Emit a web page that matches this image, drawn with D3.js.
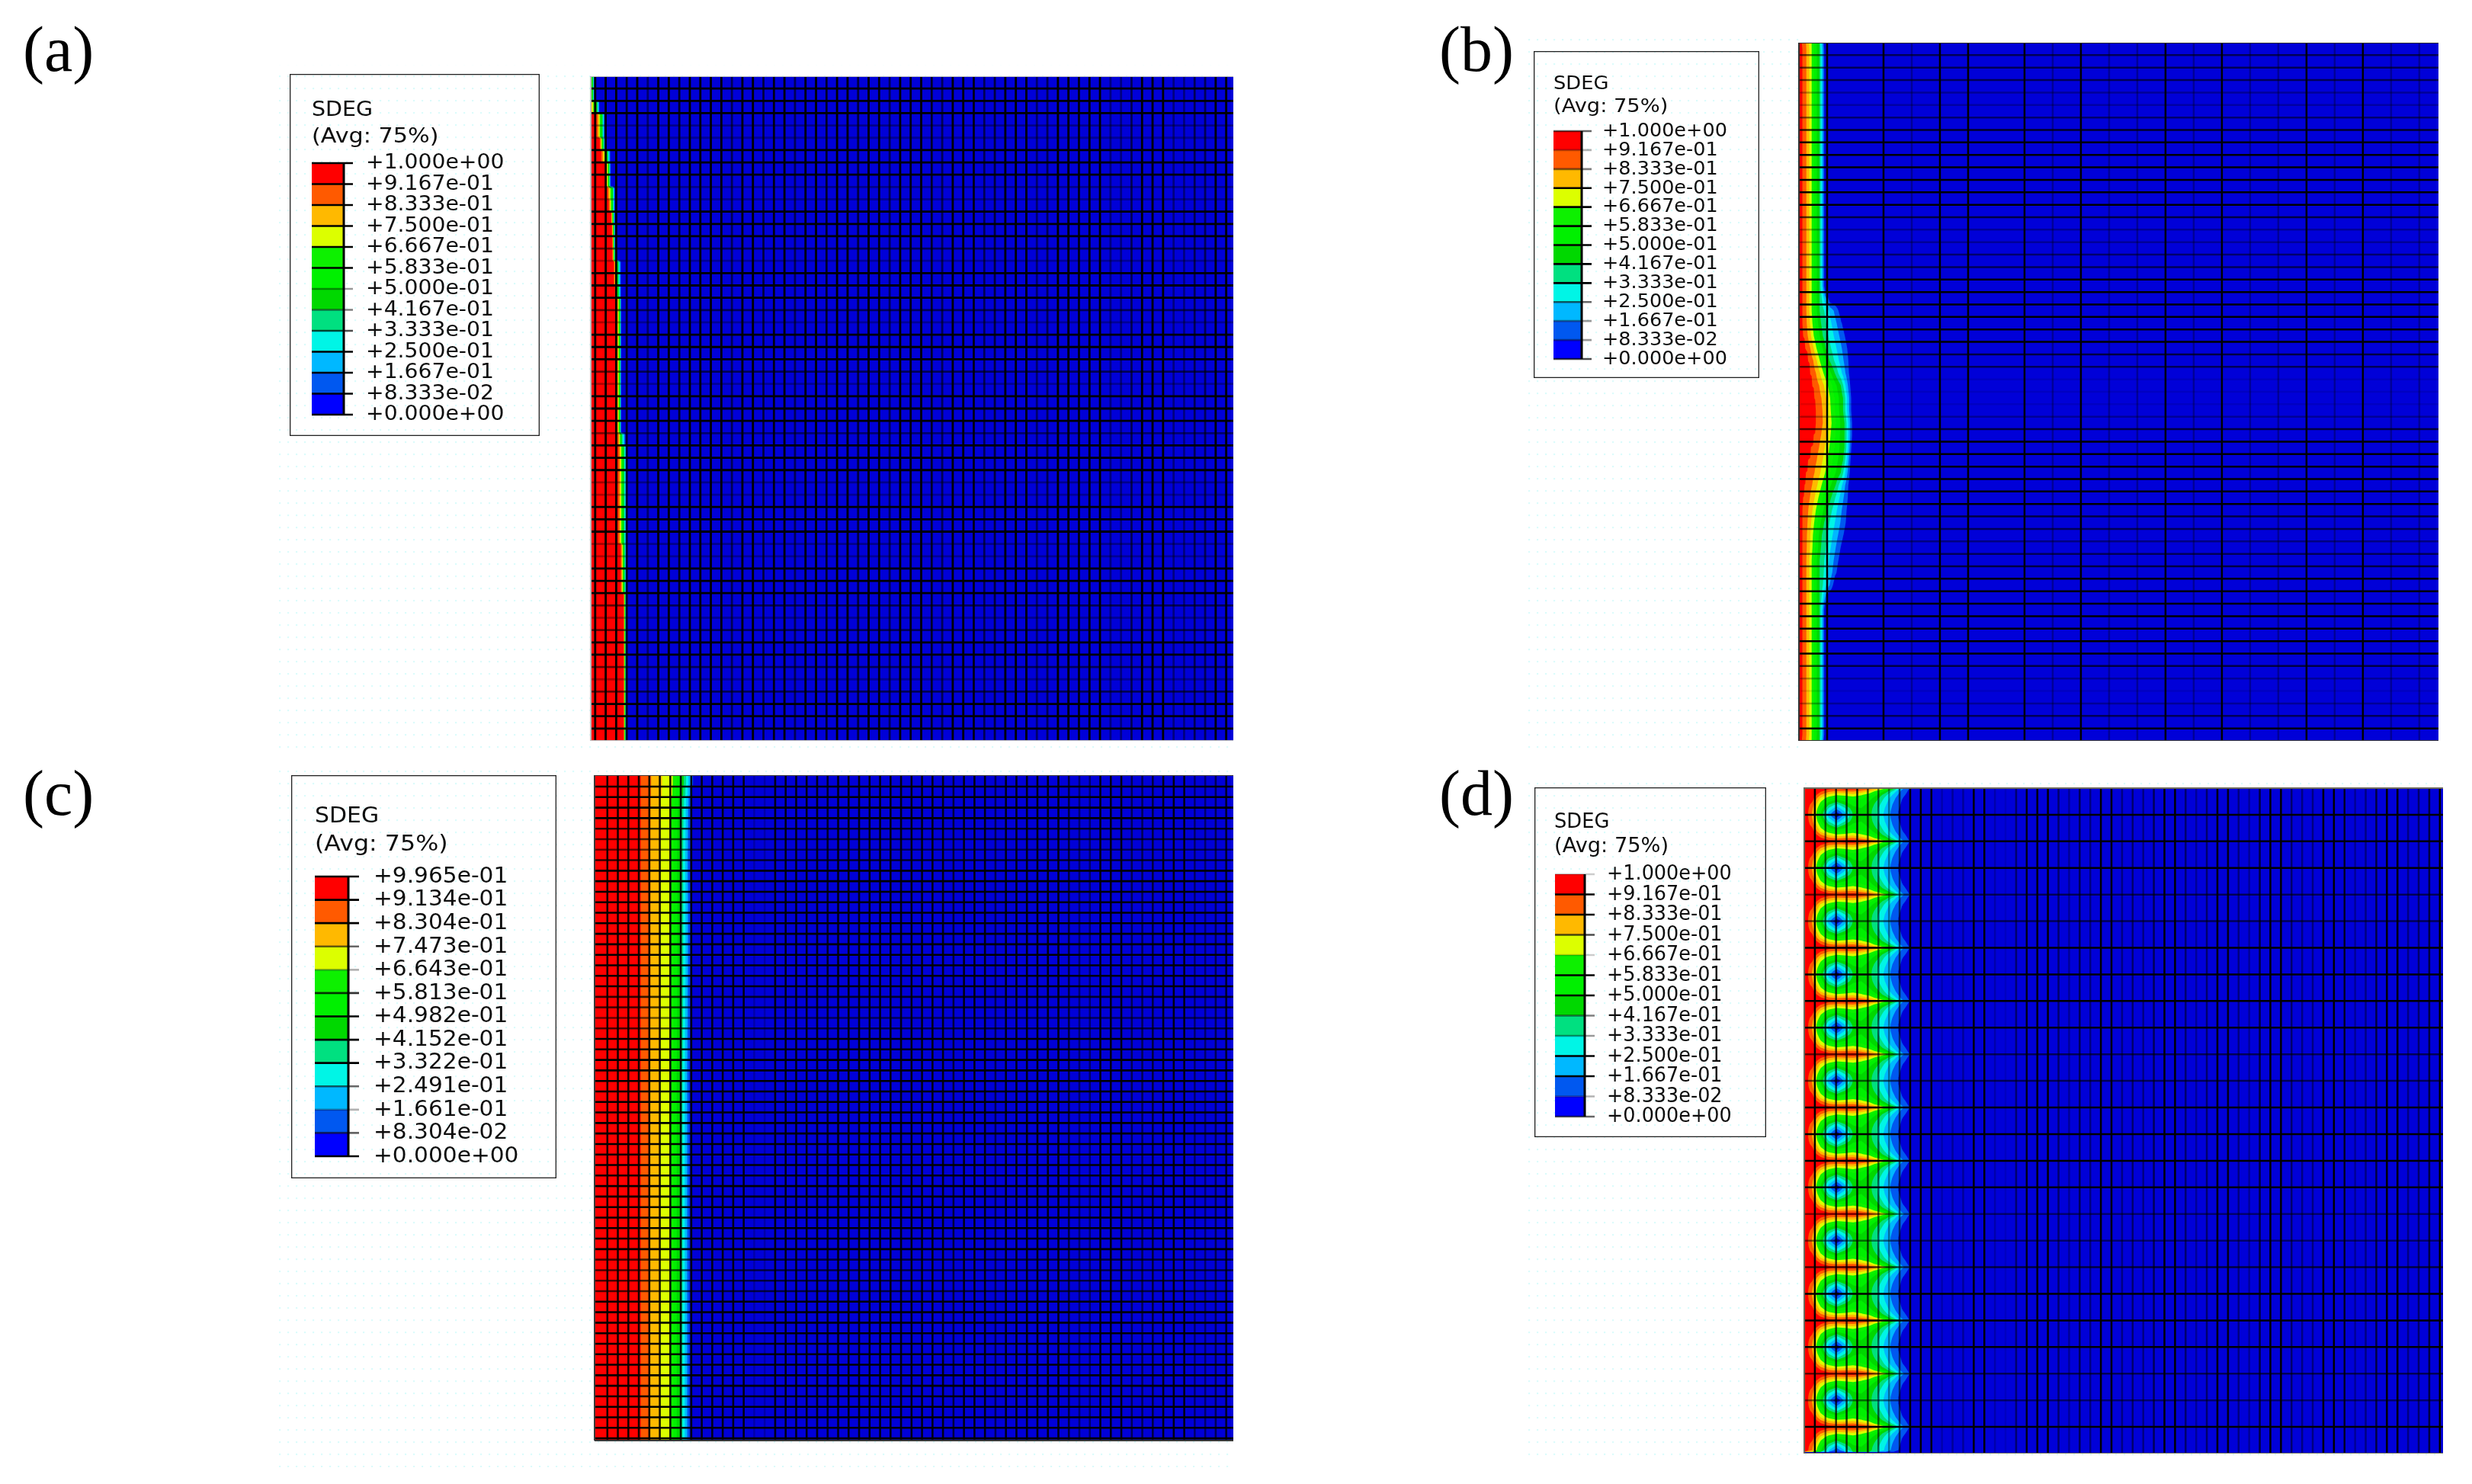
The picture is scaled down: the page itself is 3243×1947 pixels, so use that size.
<!DOCTYPE html>
<html>
<head>
<meta charset="utf-8">
<title>SDEG contours</title>
<script src="https://cdn.jsdelivr.net/npm/d3@7"></script>
<style>
body { margin: 0; background: #fff; }
svg { display: block; }
text { font-family: "DejaVu Sans", sans-serif; fill: #111; }
.tag { font-family: "Liberation Serif", serif; font-size: 84px; fill: #000; }
</style>
</head>
<body>
<div id="chart"></div>
<script>
// legend values
var labelsStd = ['+1.000e+00','+9.167e-01','+8.333e-01','+7.500e-01','+6.667e-01','+5.833e-01','+5.000e-01','+4.167e-01','+3.333e-01','+2.500e-01','+1.667e-01','+8.333e-02','+0.000e+00'];
var labelsC = ['+9.965e-01','+9.134e-01','+8.304e-01','+7.473e-01','+6.643e-01','+5.813e-01','+4.982e-01','+4.152e-01','+3.322e-01','+2.491e-01','+1.661e-01','+8.304e-02','+0.000e+00'];
var bandColors = ['#ff0000','#ff5a00','#ffb900','#dcff00','#10f000','#00f000','#00d800','#00e080','#00f5e6','#00b8ff','#0058f0','#0000ff'];
var levels = [0.0833,0.1667,0.25,0.3333,0.4167,0.5,0.5833,0.6667,0.75,0.8333,0.9167];
var meshBlue = '#0000d8';

// how dark each legend tick came out in the picture
var ticksA = [1,1,1,1,1,1,.4,.5,.7,1,1,1,1];
var ticksB = [.6,.3,.5,1,1,1,1,1,1,.6,.4,.4,.7];
var ticksC = [1,1,1,.6,.3,.8,1,1,1,.6,.3,.6,1];
var ticksD = [.2,1,1,.7,.2,1,1,.5,.4,1,1,.3,.6];

// band depth per mesh row, in mesh columns from the left edge
var redA = [-.3,-.3,-.2,.55,.55,.85,.97,1.45,1.45,1.58,1.7,1.93,2,2.05,2.05,2.17,2.17,2.3,2.5,2.5,2.5,2.5,2.5,2.5,2.5,2.5,2.5,2.5,2.5,2.55,2.6,2.6,2.6,2.6,2.6,2.6,2.6,2.6,2.85,2.85,2.85,2.85,3.12,3.12,3.12,3.12,3.12,3.12,3.12,3.12,3.12,3.12,3.12,3.12];
var midA = [.2,.2,.6,1.1,1.1,1.2,1.6,1.75,1.75,2.1,2.1,2.15,2.2,2.2,2.25,2.6,2.6,2.65,2.78,2.78,2.78,2.78,2.78,2.78,2.78,2.78,2.78,2.78,2.78,2.95,3.15,3.15,3.15,3.15,3.15,3.15,3.15,3.15,3.2,3.2,3.2,3.2,3.28,3.28,3.28,3.28,3.28,3.28,3.28,3.28,3.28,3.28,3.28,3.28];
var frontA = [.36,.36,.85,1.33,1.33,1.35,1.9,1.9,1.9,2.3,2.3,2.3,2.33,2.33,2.35,2.9,2.9,2.9,2.9,2.9,2.9,2.9,2.9,2.9,2.9,2.9,2.9,2.9,2.9,3.33,3.45,3.45,3.45,3.45,3.45,3.45,3.45,3.45,3.42,3.42,3.42,3.42,3.36,3.36,3.36,3.36,3.36,3.36,3.36,3.36,3.36,3.36,3.36,3.36];

var redB = [.11,.11,.11,.11,.11,.11,.11,.11,.11,.11,.11,.11,.11,.11,.11,.11,.11,.11,.11,.11,.11,.11,.11,.14,.22,.32,.38,.46,.54,.59,.59,.51,.41,.32,.24,.19,.14,.11,.11,.11,.11,.11,.11,.11,.11,.11,.11,.11,.11,.11,.11,.11,.11,.11,.11,.11];
var midB = [.73,.73,.73,.73,.73,.73,.73,.73,.73,.73,.73,.73,.73,.73,.73,.73,.73,.73,.73,.73,.73,.73,.78,.84,.95,1.08,1.27,1.49,1.57,1.57,1.62,1.62,1.62,1.57,1.49,1.3,1.14,1,.89,.81,.78,.73,.73,.73,.73,.73,.73,.73,.73,.73,.73,.73,.73,.73,.73,.73];
var frontB = [.92,.92,.92,.92,.92,.92,.92,.92,.92,.92,.92,.92,.92,.92,.92,.92,.92,.92,.92,.92,1.08,1.49,1.62,1.73,1.81,1.84,1.84,1.86,1.89,1.89,1.92,1.92,1.89,1.86,1.84,1.81,1.81,1.78,1.76,1.68,1.57,1.49,1.41,1.27,1.03,.92,.92,.92,.92,.92,.92,.92,.92,.92,.92,.92];

var redC = [4.36,4.36,4.36,4.36,4.36,4.36,4.36,4.36,4.36,4.36,4.36,4.36,4.36,4.36,4.36,4.36,4.36,4.36,4.36,4.36,4.36,4.36,4.36,4.36,4.36,4.36,4.36,4.36,4.36,4.36,4.36,4.36,4.36,4.36,4.36,4.36,4.36,4.36,4.36,4.36,4.36,4.36,4.36,4.36,4.36,4.36,4.36,4.36,4.36,4.36,4.36,4.36,4.36,4.36,4.36,4.36,4.36,4.36,4.36,4.36,4.36,4.36,4.36,4.36];
var midC = [8.5,8.45,8.3,8.25,8.25,8.22,8.22,8.2,8.2,8.2,8.22,8.22,8.22,8.22,8.22,8.22,8.22,8.22,8.22,8.22,8.2,8.2,8.2,8.2,8.18,8.18,8.18,8.15,8.15,8.15,8.15,8.15,8.15,8.15,8.15,8.15,8.15,8.15,8.15,8.15,8.15,8.15,8.15,8.15,8.15,8.15,8.15,8.15,8.15,8.15,8.15,8.15,8.15,8.15,8.15,8.15,8.15,8.15,8.15,8.15,8.15,8.15,8.15,8.15];
var frontC = [9.5,9.4,9.3,9.25,9.25,9.24,9.24,9.22,9.22,9.22,9.24,9.24,9.24,9.24,9.24,9.24,9.24,9.24,9.24,9.24,9.22,9.22,9.22,9.22,9.2,9.2,9.2,9.18,9.18,9.18,9.18,9.18,9.18,9.18,9.18,9.18,9.18,9.18,9.18,9.18,9.18,9.18,9.18,9.18,9.18,9.18,9.18,9.18,9.18,9.18,9.18,9.18,9.18,9.18,9.18,9.18,9.18,9.18,9.18,9.18,9.18,9.18,9.18,9.18];

// panel (d): one half period of the repeating cell, eye row first, ridge row last
var tileD = [
  [1,.82,.5,.2,0,.2,.42,.48,.45,.33,.22,.13,.05,0,0],
  [1,.83,.52,.26,.1,.26,.44,.48,.45,.34,.23,.13,.05,0,0],
  [1,.85,.56,.33,.2,.33,.47,.5,.46,.35,.24,.14,.06,.01,0],
  [1,.88,.62,.42,.3,.42,.52,.52,.48,.37,.26,.15,.07,.02,0],
  [1,.92,.68,.52,.43,.5,.56,.55,.5,.4,.28,.17,.08,.03,0],
  [1,.96,.74,.62,.56,.58,.62,.6,.54,.44,.31,.19,.09,.04,0],
  [1,1,.84,.73,.68,.7,.72,.68,.62,.5,.36,.23,.11,.05,0],
  [1,1,.93,.85,.82,.83,.84,.8,.74,.62,.47,.3,.14,.06,0],
  [1,1,1,.96,.95,.97,.97,.95,.9,.82,.68,.46,.2,.08,0]
];

// mesh line darkness, left to right and top to bottom
var vLinesA = [1,1,1,.8,1,.5,1,1,.8,1,1,1,1,.6,1,1,.7,.9,1,.6,1,1,.8,1,1,.7,1,.9,.6,1,.9,1,.8,.6,1,1,.9,.6,.7,1,1,1,.5,.6,1,1,.9,1,1,.4,.4,.6,1,1,1,.4,.4,.6,.6,1,1,1];
var hLinesA = [1,1,1,.35,.3,1,1,1,.35,.3,1,1,1,.6,.3,1,1,1,.6,.3,1,1,1,.6,.3,1,1,1,.5,1,1,1,.35,.3,1,1,1,.35,.3,1,1,1,.6,.3,.6,1,1,.6,.3,.6,1,1,1];
var vLinesB = [1,0,1,.3,1,1,0,1,.3,1,.3,.3,1,.3,1,.3,.3,1,.3,1,.3,.3];
var hLinesB = [.6,.6,.6,.3,.25,.5,.8,1,1,1,1,1,1,.7,.3,.3,.5,.6,1,1,1,1,1,1,.7,.6,.1,.1,.1,.3,.7,1,1,1,1,1,1,.7,.6,.4,.6,.7,1,1,1,1,1,1,1,.7,.3,.1,.3,.6,1];
var vLinesC = [.9,.9,.9,.9,.9,.9,.9,.9,.9,.9,.9,.9,.9,.9,.2,.2,.9,.9,.9,.9,.9,.8,.9,.9,.9,.9,.9,.9,.9,.9,.9,.9,.9,.7,.9,.9,.9,.6,.9,.9,.9,.9,.9,.9,.7,.5,.5,.9,.9,.9,.6,.6,.7,.9,.9,.9,.5,.5,.6,.8];
var hLinesC = [1,1,1,1,.8,.7,.6,.8,1,1,1,1,1,1,1,1,1,1,1,1,.8,.7,.6,.7,1,1,1,1,1,1,1,1,1,1,1,1,1,1,1,1,1,1,1,1,1,.7,.7,.7,.7,1,1,1,1,1,1,1,1,1,1,1,1,1,1];
var vLinesD = [1,.6,.8,.8,.9,.7,.6,.4,.6,1,1,1,.2,.3,.3,1,1,.2,.1,.5,.9,1,1,.5,.3,.6,.4,1,1,.4,.5,.4,.6,1,1,.5,.3,.5,1,.9,.4,.3,.7,1,1,.5,.4,.4,1,1,.8,.3,.4,.7,1,1,.4,.5,.7,1];
var hLinesD = [1,1,1,.6,.6,1,1,1,1,.6,.6,1,1,1,1,.5,.5,.7,1,1,1,.6,.5,1];

// colour ramp inside the damaged strip: fraction between red edge and green end -> damage
var rampSoft = d3.scaleLinear().domain([0,.25,.42,.55,1]).range([.9167,.8333,.75,.6667,.4167]).clamp(true);
var rampCell = d3.scaleLinear().domain([0,.25,.5,.75,1]).range([.9167,.8333,.75,.6667,.4167]).clamp(true);

var width = 3243;
var height = 1947;

var svg = d3.select('#chart')
    .append('svg')
    .attr('width', width)
    .attr('height', height)
    .attr('viewBox', [0, 0, width, height]);

var defs = svg.append('defs');
var dots = defs.append('pattern')
    .attr('id', 'dots')
    .attr('width', 11)
    .attr('height', 16)
    .attr('patternUnits', 'userSpaceOnUse');
dots.append('rect').attr('x', 3).attr('y', 3).attr('width', 2.2).attr('height', 2.2).attr('fill', '#dcfbfb');

defs.append('filter')
    .attr('id', 'soft')
    .attr('x', 0).attr('y', 0).attr('width', 1).attr('height', 1)
    .append('feGaussianBlur')
    .attr('stdDeviation', 0.55);

// faint dotted image background behind each panel
[[362, 85, 1256, 900], [2000, 40, 360, 950], [362, 1000, 1256, 925], [2000, 1018, 1205, 905]].forEach(function(r){
    svg.append('rect')
        .attr('x', r[0]).attr('y', r[1]).attr('width', r[2]).attr('height', r[3])
        .attr('fill', 'url(#dots)');
});

drawTag('(a)', 30, 93);
drawTag('(b)', 1888, 93);
drawTag('(c)', 30, 1069);
drawTag('(d)', 1888, 1069);

drawLegend({box: [380, 97, 708, 572], title: [409, 152, 187], bar: [409, 451, 463, 214, 544], textX: 480, fs: 27, sx: 1.046, labels: labelsStd, ticks: ticksA});
drawLegend({box: [2012, 67, 2308, 496], title: [2038, 117, 147], bar: [2038, 2075, 2088, 172, 471], textX: 2102, fs: 25, sx: 1.02, labels: labelsStd, ticks: ticksB});
drawLegend({box: [382, 1017, 730, 1546], title: [413, 1079, 1116], bar: [413, 457, 471, 1150, 1517], textX: 490, fs: 29, sx: 1.022, labels: labelsC, ticks: ticksC});
drawLegend({box: [2013, 1033, 2317, 1492], title: [2039, 1086, 1118], bar: [2040, 2079, 2092, 1147, 1465], textX: 2108, fs: 26, sx: .98, labels: labelsStd, ticks: ticksD});

drawPanel({id: 'a', rect: [775, 100, 1618, 972], cols: 61.1, rows: 54, xOff: .42, yOff: 1, vLines: vLinesA, hLines: hLinesA, edge: '#bdbdbd', lw: 2.8,
    field: profileField(redA, midA, frontA, rampSoft, 5, .05, 6)});
drawPanel({id: 'b', rect: [2360, 56, 3199, 972], cols: 22.68, rows: 56, xOff: 1, yOff: 1, vLines: vLinesB, hLines: hLinesB, edge: '#333', lw: 2.5,
    field: profileField(redB, midB, frontB, rampSoft, 1, .025, 2.6)});
drawPanel({id: 'c', rect: [780, 1017, 1618, 1890], cols: 60.9, rows: 63.3, xOff: 1.22, yOff: 1.09, vLines: vLinesC, hLines: hLinesC, edge: '#3a3a3a', lw: 2.6,
    field: profileField(redC, midC, frontC, rampCell, 4, .05, 11)});
drawPanel({id: 'd', rect: [2367, 1034, 3205, 1907], cols: 60.3, rows: 25, xOff: 1, yOff: 1, vLines: vLinesD, hLines: hLinesD, edge: '#6d6a5e', lw: 2.5,
    field: tileField(tileD, 200, .767)});

function drawTag(txt, x, y){
    svg.append('text')
        .attr('class', 'tag')
        .attr('x', x)
        .attr('y', y)
        .text(txt);
}

function drawLegend(o){
    var g = svg.append('g').attr('filter', 'url(#soft)');
    var y = d3.scalePoint().domain(d3.range(o.labels.length)).range([o.bar[3], o.bar[4]]);

    g.append('rect')
        .attr('x', o.box[0]).attr('y', o.box[1])
        .attr('width', o.box[2] - o.box[0]).attr('height', o.box[3] - o.box[1])
        .attr('fill', 'none')
        .attr('stroke', '#222')
        .attr('stroke-width', 2.6);

    g.selectAll('.swatch')
        .data(bandColors)
        .enter().append('rect')
        .attr('class', 'swatch')
        .attr('x', o.bar[0])
        .attr('width', o.bar[1] - o.bar[0])
        .attr('y', function(d, i){ return y(i); })
        .attr('height', function(d, i){ return y(i + 1) - y(i); })
        .attr('fill', function(d){ return d; });

    g.append('line')
        .attr('x1', o.bar[1]).attr('x2', o.bar[1])
        .attr('y1', o.bar[3]).attr('y2', o.bar[4])
        .attr('stroke', '#000')
        .attr('stroke-width', 3);

    g.selectAll('.tick')
        .data(o.ticks)
        .enter().append('line')
        .attr('class', 'tick')
        .attr('x1', o.bar[0]).attr('x2', o.bar[2])
        .attr('y1', function(d, i){ return y(i); })
        .attr('y2', function(d, i){ return y(i); })
        .attr('stroke', '#000')
        .attr('stroke-opacity', function(d){ return d; })
        .attr('stroke-width', 2.6);

    g.selectAll('.lab')
        .data(o.labels)
        .enter().append('text')
        .attr('class', 'lab')
        .attr('font-size', o.fs)
        .attr('transform', function(d, i){
            return 'translate(' + o.textX + ',' + (y(i) + o.fs * 0.27) + ') scale(' + o.sx + ',1)';
        })
        .text(function(d){ return d; });

    g.append('text')
        .attr('font-size', o.fs)
        .attr('transform', 'translate(' + o.title[0] + ',' + o.title[1] + ') scale(' + o.sx * 1.01 + ',1)')
        .text('SDEG');
    g.append('text')
        .attr('font-size', o.fs)
        .attr('transform', 'translate(' + o.title[0] + ',' + o.title[2] + ') scale(' + o.sx * 1.07 + ',1)')
        .text('(Avg: 75%)');
}

// value grid from the three typed edges of every mesh row
function profileField(red, mid, front, ramp, perRow, dx, maxCol){
    var nx = Math.ceil(maxCol / dx);
    var ny = red.length * perRow;
    var values = new Array(nx * ny);
    for(var j = 0; j < ny; j++){
        var r = Math.floor(j / perRow);
        var tail = d3.scaleLinear().domain([mid[r], front[r]]).range([.4167, .04]);
        for(var i = 0; i < nx; i++){
            var x = i * dx;
            var v;
            if(x < red[r]) v = 1;
            else if(x < mid[r]) v = ramp((x - red[r]) / (mid[r] - red[r]));
            else if(x < front[r]) v = tail(x);
            else v = 0;
            values[i + j * nx] = v;
        }
    }
    return {values: values, nx: nx, ny: ny, dx: dx, rowsData: red.length, yShift: 0};
}

// panel (d) repeats the half period mirrored down the whole height
function tileField(tile, ny, dx){
    var nx = tile[0].length;
    var half = tile.length - 1;
    var values = new Array(nx * ny);
    for(var j = 0; j < ny; j++){
        var k = Math.abs((j % (2 * half)) - half);
        for(var i = 0; i < nx; i++){
            values[i + j * nx] = tile[k][i];
        }
    }
    return {values: values, nx: nx, ny: ny, dx: dx, rowsData: ny, yShift: .5};
}

function drawPanel(p){
    var x = d3.scaleLinear().domain([0, p.cols]).range([p.rect[0], p.rect[2]]);
    var y = d3.scaleLinear().domain([0, p.rows]).range([p.rect[1], p.rect[3]]);
    var f = p.field;
    var fieldY = d3.scaleLinear().domain([0, f.ny]).range([p.rect[1], p.rect[1] + (p.rect[3] - p.rect[1]) * f.rowsData / (f.rowsData === f.ny ? f.ny : p.rows)]);

    defs.append('clipPath')
        .attr('id', 'clip' + p.id)
        .append('rect')
        .attr('x', p.rect[0]).attr('y', p.rect[1])
        .attr('width', p.rect[2] - p.rect[0]).attr('height', p.rect[3] - p.rect[1]);

    var g = svg.append('g').attr('filter', 'url(#soft)');
    var inner = g.append('g').attr('clip-path', 'url(#clip' + p.id + ')');

    inner.append('rect')
        .attr('x', p.rect[0]).attr('y', p.rect[1])
        .attr('width', p.rect[2] - p.rect[0]).attr('height', p.rect[3] - p.rect[1])
        .attr('fill', meshBlue);

    var contours = d3.contours()
        .size([f.nx, f.ny])
        .thresholds(levels)(f.values);

    var path = d3.geoPath(d3.geoTransform({
        point: function(px, py){
            this.stream.point(x((px - .5) * f.dx), fieldY(py - f.yShift));
        }
    }));

    inner.selectAll('.band')
        .data(contours)
        .enter().append('path')
        .attr('class', 'band')
        .attr('d', path)
        .attr('fill', function(d, i){ return bandColors[bandColors.length - 2 - i]; });

    // row mesh and column mesh
    inner.selectAll('.vline')
        .data(p.vLines)
        .enter().append('line')
        .attr('class', 'vline')
        .attr('x1', function(d, i){ return x(p.xOff + i); })
        .attr('x2', function(d, i){ return x(p.xOff + i); })
        .attr('y1', p.rect[1]).attr('y2', p.rect[3])
        .attr('stroke', '#000')
        .attr('stroke-opacity', function(d){ return d; })
        .attr('stroke-width', p.lw);

    inner.selectAll('.hline')
        .data(p.hLines)
        .enter().append('line')
        .attr('class', 'hline')
        .attr('x1', p.rect[0]).attr('x2', p.rect[2])
        .attr('y1', function(d, i){ return y(p.yOff + i); })
        .attr('y2', function(d, i){ return y(p.yOff + i); })
        .attr('stroke', '#000')
        .attr('stroke-opacity', function(d){ return d; })
        .attr('stroke-width', p.lw);

    g.append('path')
        .attr('d', 'M' + p.rect[0] + ',' + p.rect[3] + 'V' + p.rect[1] + 'H' + p.rect[2])
        .attr('fill', 'none')
        .attr('stroke', p.edge)
        .attr('stroke-width', 2);
    g.append('line')
        .attr('x1', p.rect[0]).attr('x2', p.rect[2])
        .attr('y1', p.rect[3]).attr('y2', p.rect[3])
        .attr('stroke', p.edge)
        .attr('stroke-width', 2);
}
</script>
</body>
</html>
